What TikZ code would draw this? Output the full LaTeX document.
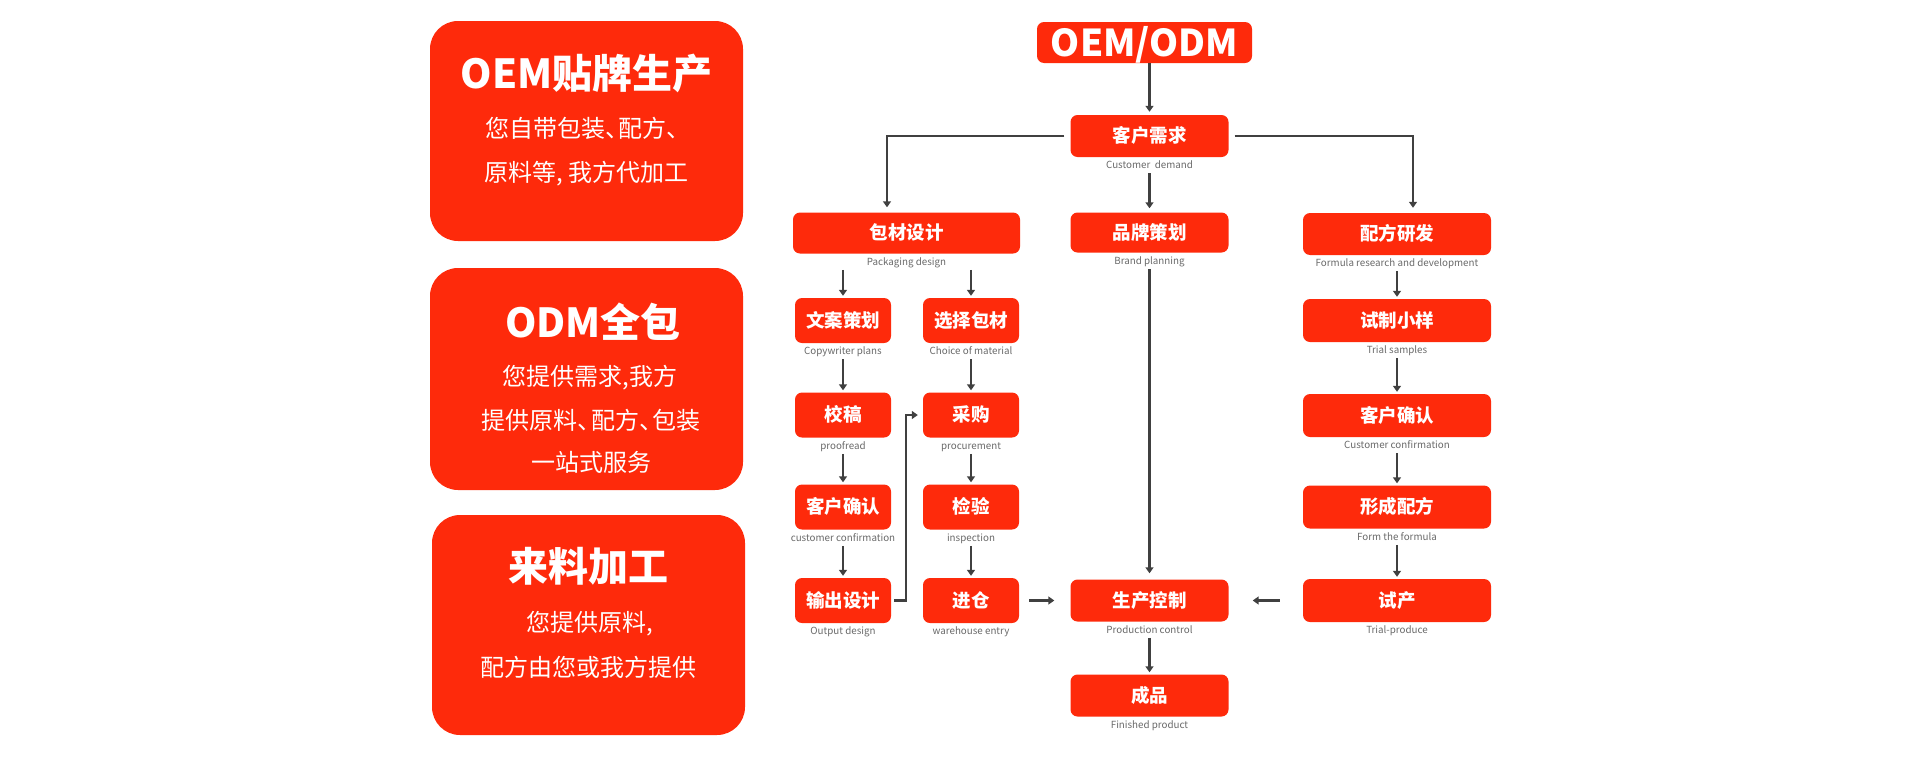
\documentclass[tikz,border=0pt]{standalone}
\usepackage{fontspec}
\newfontfamily\cjk{Noto Sans CJK SC}
\usetikzlibrary{arrows.meta,positioning}

\definecolor{brandred}{RGB}{254,42,11}
\definecolor{linegray}{RGB}{64,64,64}
\definecolor{labelgray}{RGB}{105,105,105}

% half-width enumeration comma
\newcommand{\dunhao}{、\kern-.42em}

\tikzset{
    flowbox/.style={fill=brandred, rounded corners=7pt, text=white, inner sep=0pt,
        font=\cjk\bfseries\fontsize{18.5}{20}\selectfont, text height=16.2pt, text depth=2.3pt},
    mainbox/.style={flowbox, minimum width=158pt, minimum height=42pt},
    subbox/.style={flowbox, minimum width=96pt, minimum height=45pt},
    recipebox/.style={flowbox, minimum width=188pt, minimum height=43pt},
    bigbox/.style={fill=brandred, rounded corners=28pt, inner sep=0pt,
        minimum width=313pt, minimum height=220pt},
    bigtitle/.style={text=white, inner sep=0pt,
        font=\cjk\bfseries\fontsize{40}{44}\selectfont, text height=35pt, text depth=5pt},
    bigline/.style={text=white, inner sep=0pt,
        font=\cjk\fontsize{24}{28}\selectfont, text height=21pt, text depth=3pt},
    en/.style={text=labelgray, inner sep=0pt,
        font=\cjk\fontsize{9.8}{12}\selectfont, text height=7.5pt, text depth=2.3pt},
    arr/.style={draw=linegray, line width=2.4pt, -{Triangle[width=8pt,length=6pt]},
        shorten >=2pt, shorten <=2pt},
}

\begin{document}
\begin{tikzpicture}[x=1pt, y=-1pt]
    \useasboundingbox (0,0) rectangle (1920,774);

    % left: three service types
    \node[bigbox] (oem) at (586.5,131) {};
    \node[bigtitle] (oemT) at (586.5,73) {OEM贴牌生产};
    \node[bigline] (oemA) at (588,128) {您自带包装\dunhao 配方、};
    \node[bigline] (oemB) at (586.5,172) {原料等, 我方代加工};

    \node[bigbox, minimum height=222pt] (odm) at (586.5,379) {};
    \node[bigtitle] (odmT) at (593,322) {ODM全包};
    \node[bigline] (odmA) at (590,376) {您提供需求,我方};
    \node[bigline] (odmB) at (591,420) {提供原料\dunhao 配方\dunhao 包装};
    \node[bigline] (odmC) at (591,462) {一站式服务};

    \node[bigbox] (lm) at (588.5,625) {};
    \node[bigtitle] (lmT) at (588,566) {来料加工};
    \node[bigline] (lmA) at (590,622) {您提供原料,};
    \node[bigline] (lmB) at (588,667) {配方由您或我方提供};

    % flow chart
    \node[flowbox, minimum width=215pt, minimum height=41pt, text height=27pt, text depth=0pt,
        font=\cjk\bfseries\fontsize{37}{40}\selectfont] (oemodm) at (1144.5,42.5) {OEM/ODM};

    \node[mainbox] (cd) at (1149.5,136) {客户需求};
    \node[en, below=4pt of cd] (cdl) {Customer\ \ demand};

    \node[flowbox, minimum width=227pt, minimum height=41pt] (pkg) at (906.5,233) {包材设计};
    \node[en, below=4pt of pkg] (pkgl) {Packaging design};
    \node[mainbox, minimum height=40pt] (brand) at (1149.5,232.5) {品牌策划};
    \node[en, below=4pt of brand] (brandl) {Brand planning};
    \node[recipebox, minimum height=42pt] (form) at (1397,234) {配方研发};
    \node[en, below=4pt of form] (forml) {Formula research and development};

    \node[subbox] (copy) at (843,320.5) {文案策划};
    \node[en, below=4pt of copy] (copyl) {Copywriter plans};
    \node[subbox] (choose) at (971,320.5) {选择包材};
    \node[en, below=4pt of choose] (choosel) {Choice of material};
    \node[recipebox] (sample) at (1397,320.5) {试制小样};
    \node[en, below=4pt of sample] (samplel) {Trial samples};

    \node[subbox] (proof) at (843,415) {校稿};
    \node[en, below=4pt of proof] (proofl) {proofread};
    \node[subbox] (buy) at (971,415) {采购};
    \node[en, below=4pt of buy] (buyl) {procurement};
    \node[recipebox] (conf2) at (1397,415.5) {客户确认};
    \node[en, below=4pt of conf2] (conf2l) {Customer confirmation};

    \node[subbox] (conf1) at (843,507) {客户确认};
    \node[en, below=4pt of conf1] (conf1l) {customer confirmation};
    \node[subbox] (check) at (971,507) {检验};
    \node[en, below=4pt of check] (checkl) {inspection};
    \node[recipebox] (recipe) at (1397,507) {形成配方};
    \node[en, below=4pt of recipe] (recipel) {Form the formula};

    \node[subbox] (output) at (843,600.5) {输出设计};
    \node[en, below=4pt of output] (outputl) {Output design};
    \node[subbox] (store) at (971,600.5) {进仓};
    \node[en, below=4pt of store] (storel) {warehouse entry};
    \node[mainbox] (prod) at (1149.5,600.5) {生产控制};
    \node[en, below=4pt of prod] (prodl) {Production control};
    \node[recipebox] (trial) at (1397,600.5) {试产};
    \node[en, below=4pt of trial] (triall) {Trial-produce};

    \node[mainbox] (done) at (1149.5,695.5) {成品};
    \node[en, below=4pt of done] (donel) {Finished product};

    % connectors
    \draw[arr, shorten <=0pt, shorten >=3pt] (oemodm.south -| cd.north) -- (cd.north);
    \draw[arr, shorten <=6pt, shorten >=5pt] (cd.west) -| ([xshift=-19.5pt]pkg.north);
    \draw[arr, shorten <=6pt, shorten >=5pt] (cd.east) -| ([xshift=16pt]form.north);
    \draw[arr, shorten >=4pt] (cdl) -- (brand);
    \draw[arr, shorten >=6pt] (brandl) -- (prod);
    \draw[arr] (pkgl.south -| copy.north) -- (copy.north);
    \draw[arr] (pkgl.south -| choose.north) -- (choose.north);
    \foreach \a/\b in {copyl/proof, proofl/conf1, conf1l/output,
                       choosel/buy, buyl/check, checkl/store,
                       forml/sample, samplel/conf2, conf2l/recipe, recipel/trial,
                       prodl/done}
        \draw[arr] (\a) -- (\b);
    \draw[arr, shorten <=3pt, shorten >=5pt] (output.east) -- ++(15,0) |- (buy.west);
    \draw[arr, shorten <=10pt, shorten >=16pt] (store) -- (prod);
    \draw[arr, shorten <=23pt, shorten >=24pt] (trial) -- (prod);
\end{tikzpicture}
\end{document}
